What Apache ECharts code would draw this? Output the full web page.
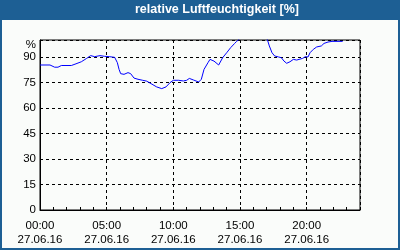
<!DOCTYPE html>
<html>
<head>
<meta charset="utf-8">
<script src="https://cdn.jsdelivr.net/npm/echarts@6/dist/echarts.min.js"></script>
<style>
html,body{margin:0;padding:0;background:#fafcfa;}
#c{width:400px;height:250px;}
</style>
</head>
<body>
<div id="c"></div>
<script>
var titleText = 'relative Luftfeuchtigkeit [%]';
var dateLabel = '27.06.16';
var yUnit = '%';
// hours since 00:00 on 27.06.16
var hours = [0.0,0.75,1.1,1.35,1.6,2.35,2.7,3.1,3.5,3.8,4.1,4.5,4.85,5.2,5.6,5.8,5.93,6.05,6.3,6.6,6.8,7.05,7.35,7.7,8.0,8.4,8.75,9.13,9.45,9.75,10.0,10.4,10.75,11.0,11.2,11.5,11.9,12.1,12.3,12.6,12.75,13.05,13.4,13.7,14.0,14.3,14.6,14.75,14.95,15.2,16.8,17.05,17.2,17.4,17.6,17.9,18.1,18.3,18.5,18.75,19.0,19.25,19.4,19.7,19.9,20.1,20.25,20.5,20.75,21.1,21.3,21.6,21.9,22.7];
var humidity = [85.3,85.3,84,84,85,85,86,87.2,89.2,90.8,90.2,90.8,90.4,90.2,89.8,86.7,82.7,80.2,79.8,80.8,80.2,77.6,76.9,76.3,75.8,74,72.4,71.4,72.4,74.9,76.3,76.3,75.9,76.3,77.4,76.5,75.3,76.9,82.7,86.7,88.6,87.6,85.3,89.6,92.5,95.5,98,99.2,100.5,103,103,100.3,96.5,92.5,90.6,90,89.6,87.6,86.3,87.2,88.6,88.2,87.6,89.2,90.2,90,92.5,94.5,95.9,96.5,98,98.8,99.2,99.2];
var xLabelHours = [0,5,10,15,20];
var yTicks = [0,15,30,45,60,75,90];

var data = hours.map(function(h,i){return [h, humidity[i]];});
function pad(n){return (n<10?'0':'')+n;}
var font = 'Liberation Sans';

var chart = echarts.init(document.getElementById('c'), null, {renderer:'canvas'});
chart.setOption({
  backgroundColor:'#fafcfa',
  animation:false,
  title:{
    text:titleText, left:135, top:3, padding:0,
    textStyle:{color:'#ffffff', fontFamily:font, fontWeight:'bold', fontSize:12.5, lineHeight:14}
  },
  graphic:[
    {type:'rect', z:-1, shape:{x:0,y:0,width:400,height:20}, style:{fill:'#1d5f94'}},
    {type:'rect', z:-1, shape:{x:1,y:1,width:398,height:248}, style:{fill:'none', stroke:'#1d5f94', lineWidth:2}}
  ],
  grid:{left:40, top:40, width:320, height:170, show:true, borderColor:'#000', borderWidth:1, backgroundColor:'transparent', containLabel:false},
  xAxis:[
    {type:'value', min:0, max:24, interval:1, position:'bottom',
     axisLine:{show:true, lineStyle:{color:'#000', width:1}},
     axisTick:{show:true, inside:true, length:3, lineStyle:{color:'#000'}},
     axisLabel:{show:false}, splitLine:{show:false}},
    {type:'value', min:0, max:24, interval:5, position:'bottom',
     axisLine:{show:false}, axisTick:{show:false},
     axisLabel:{show:true, margin:9, color:'#000', fontFamily:font, fontSize:11.5, lineHeight:14,
       showMaxLabel:false,
       formatter:function(v){ return xLabelHours.indexOf(v)>=0 ? pad(v)+':00\n'+dateLabel : ''; }},
     splitLine:{show:true, lineStyle:{color:'#000', type:[3,3], width:1}}}
  ],
  yAxis:{type:'value', min:0, max:100, interval:15,
    name:yUnit, nameLocation:'end', nameGap:-5,
    nameTextStyle:{color:'#000', fontFamily:font, fontSize:11.5, align:'right', verticalAlign:'middle', padding:[0,4,0,0]},
    axisLine:{show:true, lineStyle:{color:'#000', width:1}},
    axisTick:{show:false},
    axisLabel:{color:'#000', fontFamily:font, fontSize:11.5, margin:4,
      formatter:function(v){ return yTicks.indexOf(v)>=0 ? String(v) : ''; }},
    splitLine:{show:true, lineStyle:{color:'#000', type:[3,3], width:1}}},
  series:[{
    type:'line', xAxisIndex:0, data:data, showSymbol:false, clip:true,
    lineStyle:{color:'#0000ff', width:1}, smooth:false
  }]
});
</script>
</body>
</html>
